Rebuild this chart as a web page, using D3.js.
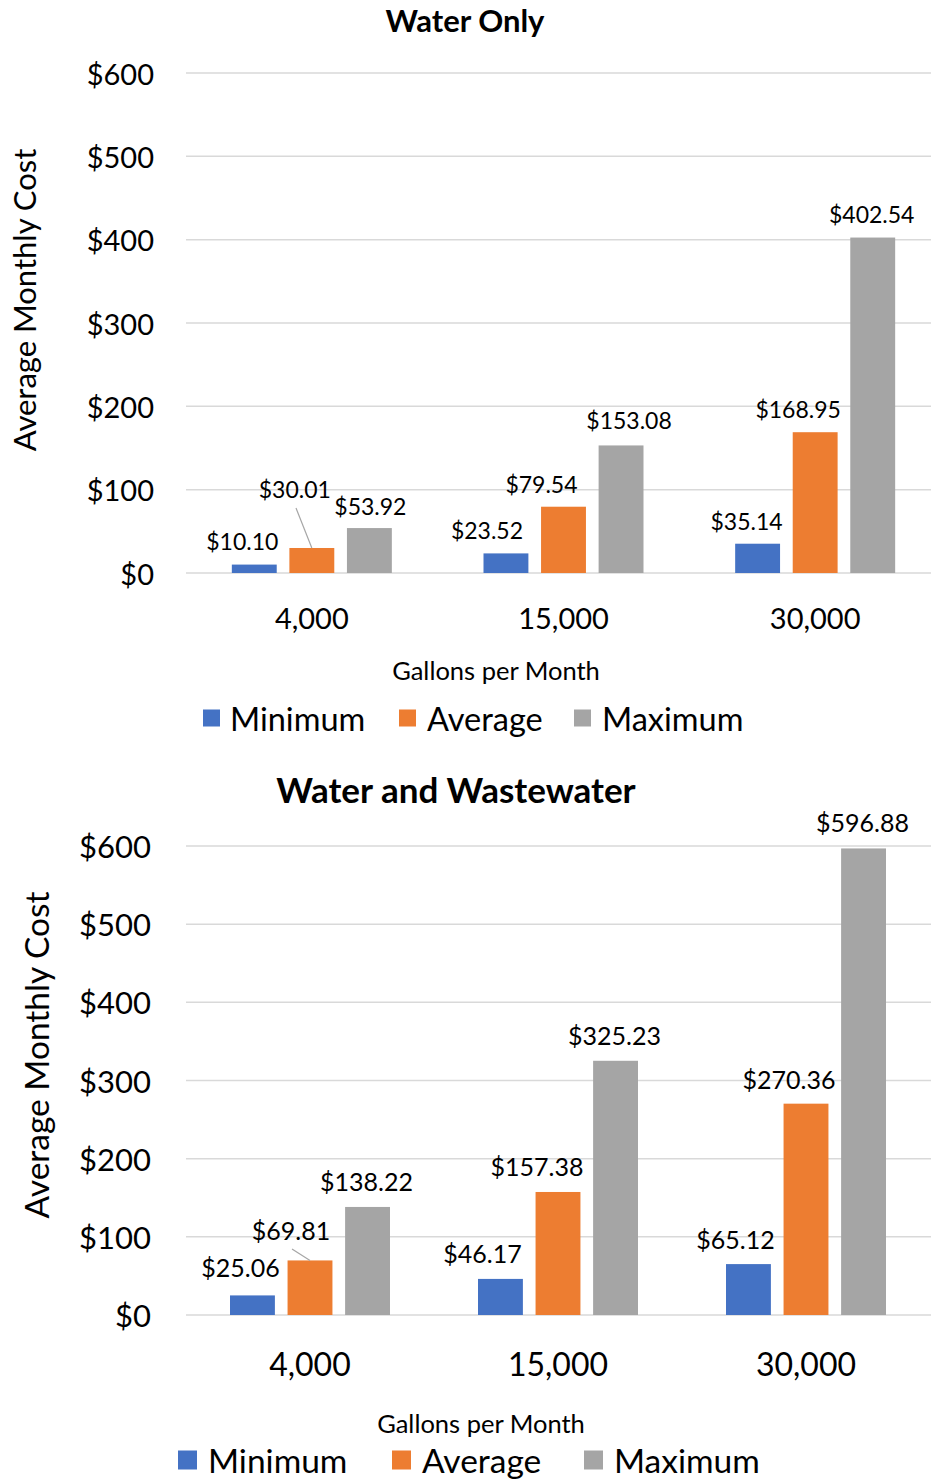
<!doctype html>
<html>
  <head>
    <script src="https://cdn.jsdelivr.net/npm/d3@7/dist/d3.min.js"></script>
    <style>
      body { margin: 0; background: #fff; }
      text { font-family: Lato, "Open Sans", sans-serif; fill: #000; }
    </style>
  </head>
  <body>
    <script>
        // data
        var categories = ["4,000", "15,000", "30,000"];
        var seriesNames = ["Minimum", "Average", "Maximum"];
        var tickValues = [0, 100, 200, 300, 400, 500, 600];

        var waterMin = [10.10, 23.52, 35.14];
        var waterAvg = [30.01, 79.54, 168.95];
        var waterMax = [53.92, 153.08, 402.54];

        var bothMin = [25.06, 46.17, 65.12];
        var bothAvg = [69.81, 157.38, 270.36];
        var bothMax = [138.22, 325.23, 596.88];

        var colors = ["#4472C4", "#ED7D31", "#A5A5A5"];

        var width = 931, height = 1481;

        var svg = d3.select("body").append("svg")
            .attr("width", width)
            .attr("height", height);

        var charts = [
            {
                title: "Water Only", series: [waterMin, waterAvg, waterMax],
                top: 73, bottom: 573, left: 186, right: 941,
                titleX: 465, titleY: 20, titleSize: 31,
                tickRight: 154, tickSize: 29,
                yTitleX: 24, yTitleY: 300, yTitleSize: 31,
                catY: 617, catSize: 29,
                xTitleX: 496, xTitleY: 670, xTitleSize: 25.5,
                labelSize: 23,
                // label nudges (per series, per category), like Excel's manual placement
                dx: [[-12, -19, -11], [-17, -22, -17], [1, 8, -1]],
                dy: [[24, 23, 23], [59, 23, 23], [22, 25, 24]],
                leader: {s: 1, c: 0, x1: 296, y1: 508},
                legendY: 718, legendSize: 32.5, legendBox: 17,
                legendBoxX: [203, 399, 574], legendTextX: [230, 427, 602]
            },
            {
                title: "Water and Wastewater", series: [bothMin, bothAvg, bothMax],
                top: 846, bottom: 1315, left: 186, right: 930,
                titleX: 456, titleY: 789, titleSize: 35,
                tickRight: 151, tickSize: 31,
                yTitleX: 36, yTitleY: 1055, yTitleSize: 33.5,
                catY: 1363, catSize: 32,
                xTitleX: 481, xTitleY: 1423, xTitleSize: 25.5,
                labelSize: 25,
                dx: [[-12, -18, -13], [-19, -21, -17], [-1, -1, -1]],
                dy: [[28, 26, 25], [30, 26, 25], [26, 26, 26]],
                leader: {s: 1, c: 0, x1: 292, y1: 1249},
                legendY: 1460, legendSize: 33.5, legendBox: 19,
                legendBoxX: [178, 392, 584], legendTextX: [208, 422, 614]
            }
        ];

        charts.forEach(drawChart);

        function drawChart(cfg) {
            var g = svg.append("g");

            var x = d3.scaleBand()
                .domain(categories)
                .range([cfg.left, cfg.right])
                .paddingInner(0)
                .paddingOuter(0);

            var inner = d3.scaleBand()
                .domain(seriesNames)
                .range([-80, 80])
                .paddingInner(0.22);

            var y = d3.scaleLinear()
                .domain([0, 600])
                .range([cfg.bottom, cfg.top]);

            // gridlines
            g.selectAll(".grid")
                .data(tickValues)
                .enter().append("line")
                .attr("x1", cfg.left)
                .attr("x2", width)
                .attr("y1", d => y(d))
                .attr("y2", d => y(d))
                .attr("stroke", "#D9D9D9")
                .attr("stroke-width", 1.5);

            // y tick labels
            g.selectAll(".ytick")
                .data(tickValues)
                .enter().append("text")
                .attr("x", cfg.tickRight)
                .attr("y", d => y(d))
                .attr("text-anchor", "end")
                .attr("dominant-baseline", "central")
                .style("font-size", cfg.tickSize + "px")
                .text(d => "$" + d);

            // bars
            cfg.series.forEach(function(vals, si) {
                var name = seriesNames[si];
                g.selectAll(".bar-" + si)
                    .data(vals)
                    .enter().append("rect")
                    .attr("x", (d, i) => x(categories[i]) + x.bandwidth() / 2 + inner(name))
                    .attr("y", d => y(d))
                    .attr("width", inner.bandwidth())
                    .attr("height", d => y(0) - y(d))
                    .attr("fill", colors[si]);

                g.selectAll(".lbl-" + si)
                    .data(vals)
                    .enter().append("text")
                    .attr("x", (d, i) => x(categories[i]) + x.bandwidth() / 2 + inner(name) + inner.bandwidth() / 2 + cfg.dx[si][i])
                    .attr("y", (d, i) => y(d) - cfg.dy[si][i])
                    .attr("text-anchor", "middle")
                    .attr("dominant-baseline", "central")
                    .style("font-size", cfg.labelSize + "px")
                    .text(d => "$" + d.toFixed(2));
            });

            // leader line for the moved label
            var L = cfg.leader;
            var lv = cfg.series[L.s][L.c];
            g.append("line")
                .attr("x1", L.x1)
                .attr("y1", L.y1)
                .attr("x2", x(categories[L.c]) + x.bandwidth() / 2)
                .attr("y2", y(lv))
                .attr("stroke", "#A6A6A6")
                .attr("stroke-width", 1.2);

            // category labels
            g.selectAll(".cat")
                .data(categories)
                .enter().append("text")
                .attr("x", d => x(d) + x.bandwidth() / 2)
                .attr("y", cfg.catY)
                .attr("text-anchor", "middle")
                .attr("dominant-baseline", "central")
                .style("font-size", cfg.catSize + "px")
                .text(d => d);

            // title
            g.append("text")
                .attr("x", cfg.titleX)
                .attr("y", cfg.titleY)
                .attr("text-anchor", "middle")
                .attr("dominant-baseline", "central")
                .style("font-size", cfg.titleSize + "px")
                .style("font-weight", "bold")
                .text(cfg.title);

            // axis titles
            g.append("text")
                .attr("transform", `translate(${cfg.yTitleX},${cfg.yTitleY}) rotate(-90)`)
                .attr("text-anchor", "middle")
                .attr("dominant-baseline", "central")
                .style("font-size", cfg.yTitleSize + "px")
                .text("Average Monthly Cost");

            g.append("text")
                .attr("x", cfg.xTitleX)
                .attr("y", cfg.xTitleY)
                .attr("text-anchor", "middle")
                .attr("dominant-baseline", "central")
                .style("font-size", cfg.xTitleSize + "px")
                .text("Gallons per Month");

            // legend
            seriesNames.forEach(function(name, i) {
                g.append("rect")
                    .attr("x", cfg.legendBoxX[i])
                    .attr("y", cfg.legendY - cfg.legendBox / 2)
                    .attr("width", cfg.legendBox)
                    .attr("height", cfg.legendBox)
                    .attr("fill", colors[i]);
                g.append("text")
                    .attr("x", cfg.legendTextX[i])
                    .attr("y", cfg.legendY)
                    .attr("dominant-baseline", "central")
                    .style("font-size", cfg.legendSize + "px")
                    .text(name);
            });
        }
    </script>
  </body>
</html>
